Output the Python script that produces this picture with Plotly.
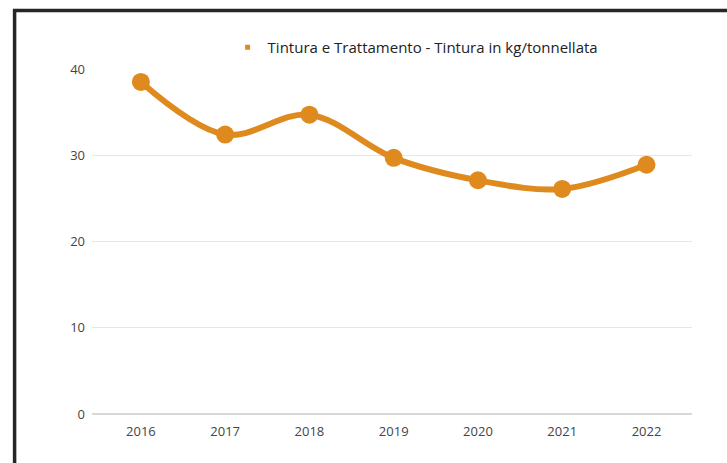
import plotly.graph_objects as go

# Consumo di tintura per tonnellata
years = ["2016", "2017", "2018", "2019", "2020", "2021", "2022"]
tintura_kg_t = [38.5, 32.4, 34.7, 29.7, 27.1, 26.1, 28.9]
series_name = "Tintura e Trattamento - Tintura in kg/tonnellata"
y_ticks = [0, 10, 20, 30, 40]

ORANGE = "#DF8A1F"
FONT = "Open Sans"

fig = go.Figure()

fig.add_trace(go.Scatter(
    x=years, y=tintura_kg_t,
    mode="lines+markers",
    line=dict(color=ORANGE, width=6, shape="spline", smoothing=1.0),
    marker=dict(color=ORANGE, size=18),
    showlegend=False,
    cliponaxis=False,
    hoverinfo="x+y",
))

# Legend entry shown as a small square swatch
fig.add_trace(go.Scatter(
    x=[None], y=[None],
    mode="markers",
    marker=dict(color=ORANGE, symbol="square", size=5),
    name=series_name,
    showlegend=True,
))

# Frame on the left and top edges of the card
fig.add_shape(
    type="path",
    xref="paper", yref="paper",
    path="M -0.129 -0.2 L -0.129 1.1696 L 1.2 1.1696",
    line=dict(color="#262626", width=3.5),
)

fig.update_layout(
    width=727, height=463,
    margin=dict(l=92, r=35, t=69, b=49),
    paper_bgcolor="white",
    plot_bgcolor="white",
    font=dict(family=FONT, color="#333"),
    legend=dict(
        orientation="h",
        x=0.226, y=1.11, xanchor="left", yanchor="top",
        font=dict(family=FONT, size=15, color="#222"),
        itemwidth=30,
        bgcolor="rgba(0,0,0,0)",
    ),
    xaxis=dict(
        type="category",
        range=[-0.58, 6.54],
        showgrid=False,
        showline=False,
        zeroline=False,
        ticks="",
        ticklabelstandoff=8,
        tickfont=dict(family=FONT, size=13, color="#444"),
    ),
    yaxis=dict(
        range=[0, 40],
        tickvals=y_ticks,
        showgrid=True,
        gridcolor="#e6e6e6",
        gridwidth=1,
        zeroline=True,
        zerolinecolor="#d8d8d8",
        zerolinewidth=1.5,
        showline=False,
        ticks="",
        ticklabelstandoff=6,
        tickfont=dict(family=FONT, size=13, color="#444"),
    ),
)

fig.write_html("out.html")
